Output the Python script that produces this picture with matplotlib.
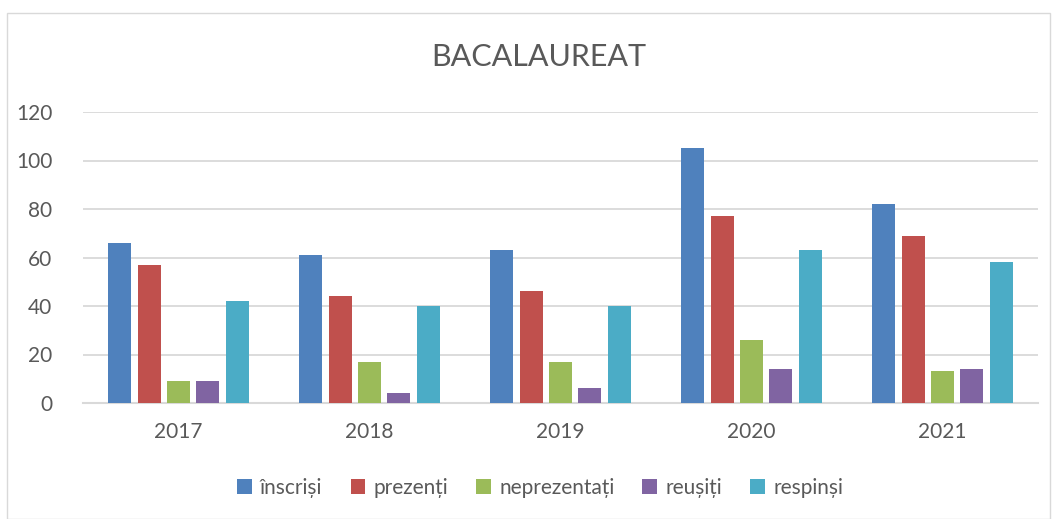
import matplotlib
matplotlib.use("Agg")
import matplotlib.pyplot as plt
from matplotlib.patches import Rectangle
import numpy as np

plt.rcParams['font.family'] = ['Lato', 'DejaVu Sans']

years = ["2017", "2018", "2019", "2020", "2021"]
series_names = ["înscriși", "prezenți", "neprezentați", "reușiți", "respinși"]
inscrisi = [66, 61, 63, 105, 82]
prezenti = [57, 44, 46, 77, 69]
neprezentati = [9, 17, 17, 26, 13]
reusiti = [9, 4, 6, 14, 14]
respinsi = [42, 40, 40, 63, 58]
yticks = [0, 20, 40, 60, 80, 100, 120]
colors = ["#4F81BD", "#C0504D", "#9BBB59", "#8064A2", "#4BACC6"]

W, H = 1055, 519
fig = plt.figure(figsize=(W / 100, H / 100), dpi=100)
fig.patch.set_facecolor("white")

# chart border
fig.patches.append(Rectangle((7 / W, 0), (1050 - 7) / W, 1 - 13 / H,
                             transform=fig.transFigure, fill=False,
                             edgecolor="#D9D9D9", linewidth=1.0))

ax = fig.add_axes([83 / W, 1 - 403 / H, (1038 - 83) / W, (403 - 112) / H])
data = [inscrisi, prezenti, neprezentati, reusiti, respinsi]
x = np.arange(len(years))
step = 0.1538
bw = 0.1207
for i, (vals, name, c) in enumerate(zip(data, series_names, colors)):
    ax.bar(x + (i - 2) * step, vals, width=bw, color=c, label=name, zorder=3)

ax.set_xlim(-0.5, len(years) - 0.5)
ax.set_ylim(0, 120)
ax.set_yticks(yticks)
ax.set_yticklabels([str(v) for v in yticks])
ax.set_xticks(x)
ax.set_xticklabels(years)
ax.tick_params(axis="both", length=0, labelsize=15, colors="#595959")
ax.tick_params(axis="y", pad=22)
ax.tick_params(axis="x", pad=14)
ax.grid(axis="y", color="#D9D9D9", linewidth=1.3, zorder=0)
for s in ["top", "right", "left"]:
    ax.spines[s].set_visible(False)
ax.spines["bottom"].set_color("#D9D9D9")
ax.spines["bottom"].set_linewidth(1.5)

fig.text(539 / W, 1 - 57 / H, "BACALAUREAT", ha="center", va="center",
         fontsize=22, color="#595959")

leg = fig.legend(loc="center", bbox_to_anchor=(540 / W, 1 - 488 / H), ncol=5,
                 frameon=False, fontsize=15, handlelength=0.7, handleheight=0.7,
                 handletextpad=0.4, columnspacing=1.35)
for t in leg.get_texts():
    t.set_color("#595959")

fig.savefig("out.png", dpi=100, facecolor="white")
